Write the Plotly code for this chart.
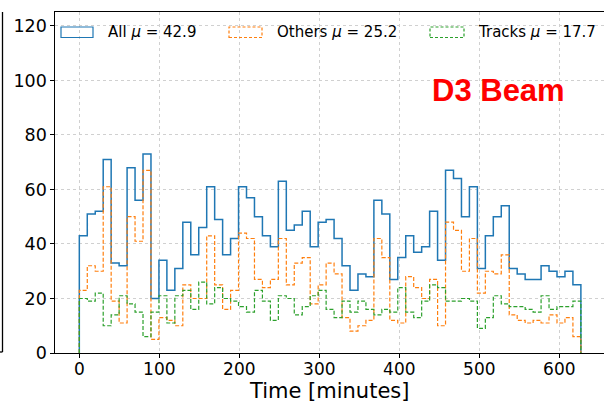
import numpy as np
import plotly.graph_objects as go

# Event counts per time bin (63 bins spanning the run)
all_counts = [43, 51, 52, 71, 33, 32, 68, 56, 73, 20,
              34, 23, 31, 48, 36, 46, 61, 49, 36, 42,
              61, 57, 50, 43, 39, 63, 45, 47, 52, 39,
              48, 49, 42, 32, 23, 29, 28, 56, 51, 27,
              35, 43, 37, 39, 52, 34, 67, 64, 50, 61,
              31, 43, 50, 54, 31, 29, 27, 27, 32, 30,
              28, 30, 25]
others_counts = [23, 32, 30, 61, 19, 11, 50, 41, 67, 5,
                 13, 12, 10, 25, 20, 20, 43, 25, 16, 23,
                 44, 42, 27, 24, 27, 42, 25, 33, 35, 18,
                 25, 33, 29, 13, 8, 10, 12, 42, 35, 12,
                 11, 28, 24, 20, 27, 10, 48, 45, 30, 42,
                 22, 30, 29, 36, 14, 12, 11, 12, 11, 14,
                 11, 13, 6]
tracks_counts = [20, 19, 22, 10, 14, 21, 18, 15, 6, 15,
                 21, 11, 21, 23, 16, 26, 18, 24, 20, 19,
                 17, 15, 23, 19, 12, 21, 20, 14, 17, 21,
                 23, 16, 13, 19, 15, 19, 16, 14, 16, 15,
                 24, 15, 13, 19, 25, 24, 19, 19, 20, 19,
                 9, 13, 21, 18, 17, 17, 16, 15, 21, 16,
                 17, 17, 19]

t_start, t_end = 0.0, 627.0          # minutes
x_ticks = [0, 100, 200, 300, 400, 500, 600]
y_ticks = [0, 20, 40, 60, 80, 100, 120]

series_names = ["All", "Others", "Tracks"]
series_colors = ["#1f77b4", "#ff7f0e", "#2ca02c"]

edges = np.linspace(t_start, t_end, len(all_counts) + 1)


def step_outline(counts):
    """Outline of a step histogram: up from zero, across each bin, back to zero."""
    x = np.repeat(edges, 2)
    y = np.concatenate([[0], np.repeat(np.asarray(counts, float), 2), [0]])
    return x, y


W, H = 604, 404
L, R, T, B = 55, 0, 12, 51
plot_w, plot_h = W - L - R, H - T - B


def px(xp):
    return (xp - L) / plot_w


def py(yp):
    return (H - B - yp) / plot_h


fig = go.Figure()
styles = [dict(width=1.5), dict(width=1.2, dash="4px,2px"), dict(width=1.2, dash="4px,2px")]
for counts, color, st in zip([all_counts, others_counts, tracks_counts], series_colors, styles):
    x, y = step_outline(counts)
    fig.add_trace(go.Scatter(x=x, y=y, mode="lines", line=dict(color=color, **st),
                             hoverinfo="skip", showlegend=False))

font = "DejaVu Sans"
axis_common = dict(
    ticks="outside", ticklen=3.5, tickwidth=1, tickcolor="black",
    showline=True, linecolor="black", linewidth=1.2,
    showgrid=True, gridcolor="#d0d0d0", gridwidth=0.8, griddash="3px,3px",
    zeroline=False,
)

fig.update_layout(
    width=W, height=H,
    margin=dict(l=L, r=R, t=T, b=B, pad=0),
    paper_bgcolor="white", plot_bgcolor="white",
    xaxis=dict(range=[-30.4, 655.9], tickvals=x_ticks, mirror=True, ticklabelstandoff=-3,
               tickfont=dict(family=font, size=17, color="black"),
               automargin=False, **axis_common),
    yaxis=dict(range=[0, 125.1], tickvals=y_ticks, mirror=False, automargin=False,
               tickfont=dict(family=font, size=17.5, color="black"),
               **axis_common),
)

# Legend: outlined boxes with the mean of each series
legend_boxes = [(61, 93), (229, 262), (430, 464)]
legend_text_x = [106, 275, 476]
shapes = []
annotations = []
for name, counts, color, (x0, x1), tx, dash in zip(
        series_names, [all_counts, others_counts, tracks_counts], series_colors,
        legend_boxes, legend_text_x, ["solid", "3px,2px", "3px,2px"]):
    shapes.append(dict(type="rect", xref="paper", yref="paper",
                       x0=px(x0), x1=px(x1), y0=py(37.5), y1=py(27),
                       line=dict(color=color, width=1.2, dash=dash), fillcolor="rgba(0,0,0,0)"))
    annotations.append(dict(xref="paper", yref="paper", x=px(tx), y=py(32),
                            xanchor="left", yanchor="middle", showarrow=False,
                            text=f"{name} <i>μ</i> = {np.mean(counts):.1f}",
                            font=dict(family=font, size=15, color="black")))

# x-axis title
annotations.append(dict(xref="paper", yref="paper", x=px(329), y=py(404),
                        xanchor="center", yanchor="bottom", showarrow=False, borderpad=0,
                        text="Time [minutes]",
                        font=dict(family=font, size=21, color="black")))

annotations.append(dict(xref="paper", yref="paper", x=px(498), y=py(90),
                        xanchor="center", yanchor="middle", showarrow=False,
                        text="<b>D3 Beam</b>",
                        font=dict(family="Liberation Sans", size=31, color="#ff0000")))

# Edge of the neighbouring panel on the left
shapes.append(dict(type="line", xref="paper", yref="paper",
                   x0=px(2.5), x1=px(2.5), y0=py(12), y1=py(352),
                   line=dict(color="black", width=1.3)))
shapes.append(dict(type="line", xref="paper", yref="paper",
                   x0=px(0), x1=px(2.5), y0=py(352), y1=py(352),
                   line=dict(color="black", width=1.3)))

fig.update_layout(shapes=shapes, annotations=annotations)
fig.write_html("out.html")
